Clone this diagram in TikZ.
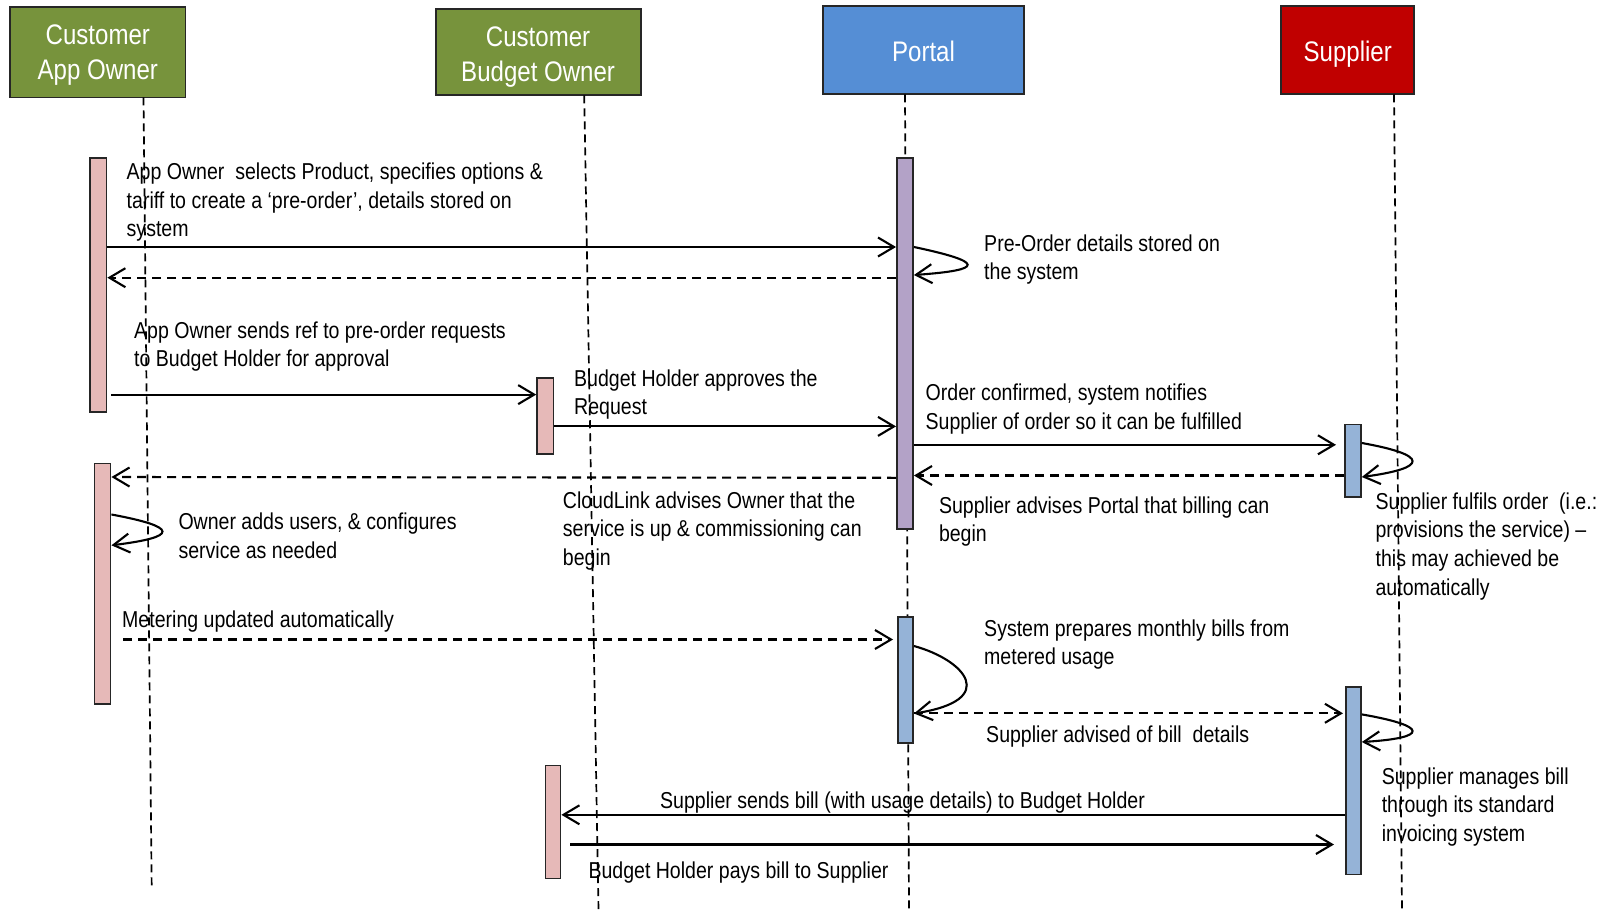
\documentclass[tikz,border=0pt]{standalone}
\usepackage{fontspec}
\setmainfont{Liberation Sans}[FakeStretch=0.85]
\usetikzlibrary{arrows.meta}
\definecolor{hgreen}{HTML}{77933C}
\definecolor{hblue}{HTML}{558ED5}
\definecolor{hred}{HTML}{C00000}
\definecolor{bpink}{HTML}{E6B9B8}
\definecolor{bpurple}{HTML}{B3A2C7}
\definecolor{bblue}{HTML}{95B3D7}
\begin{document}
\begin{tikzpicture}[x=1pt,y=-1pt,
  hdr/.style={draw=black!85, line width=1.8pt, text=white, align=center, inner sep=0pt, font=\fontsize{28.3}{35}\selectfont},
  hdrone/.style={hdr, text height=24pt, text depth=1.8pt},
  actbar/.style={draw=black!85, line width=1.5pt, inner sep=0pt},
  life/.style={line width=1.7pt, dash pattern=on 8pt off 5pt},
  msg/.style={line width=2.1pt, -{Straight Barb[length=16pt,width=19pt]}},
  ret/.style={msg, dash pattern=on 9pt off 6pt},
  lbl/.style={anchor=base west, align=left, inner sep=0pt, font=\fontsize{23}{28.7}\selectfont}
]
\useasboundingbox[fill=white] (0,0) rectangle (1607,910);

% headers
\node[hdr, fill=hgreen, minimum width=175.3pt, minimum height=90.2pt] (h1) at (97.85,52.3) {\rule{0pt}{26pt}Customer\\App Owner};
\node[hdr, fill=hgreen, minimum width=205pt, minimum height=86.1pt] (h2) at (538.1,52.25) {\rule{0pt}{29pt}Customer\\Budget Owner};
\node[hdrone, fill=hblue, minimum width=201pt, minimum height=88.1pt] (h3) at (923.5,50.25) {Portal};
\node[hdrone, fill=hred, minimum width=133.3pt, minimum height=88.1pt] (h4) at (1347.7,50.25) {Supplier};

% lifelines
\coordinate (l1a) at (143.5,97.4);  \coordinate (l1b) at (151.7,887.6);
\coordinate (l2a) at (584.2,95.3);  \coordinate (l2b) at (598.5,910);
\coordinate (l3a) at (905,94.3);    \coordinate (l3b) at (909,910);
\coordinate (l4a) at (1394,94.3);   \coordinate (l4b) at (1402,910);
\draw[life] (l1a) -- (l1b);
\draw[life] (l2a) -- (l2b);
\draw[life] (l3a) -- (l3b);
\draw[life] (l4a) -- (l4b);

% activation bars
\node[actbar, fill=bpink, minimum width=16.4pt, minimum height=254.2pt] (a1) at (98.4,284.9) {};
\node[actbar, fill=bpink, minimum width=16.4pt, minimum height=75.8pt] (a2) at (545.2,416.1) {};
\node[actbar, fill=bpurple, minimum width=16.4pt, minimum height=371pt] (a3) at (905,343.3) {};
\node[actbar, fill=bblue, minimum width=16.3pt, minimum height=72.7pt] (a4) at (1352.9,460.7) {};
\node[actbar, fill=bpink, minimum width=16.4pt, minimum height=240.7pt] (a5) at (102.5,583.7) {};
\node[actbar, fill=bblue, minimum width=15.4pt, minimum height=126pt] (a6) at (905.5,680) {};
\node[actbar, fill=bblue, minimum width=15.3pt, minimum height=187.5pt] (a7) at (1353.4,780.5) {};
\node[actbar, fill=bpink, minimum width=15.3pt, minimum height=112.7pt] (a8) at (553,822) {};

% messages
\draw[msg] (a1.east |- 0,247) -- (a3.west |- 0,247);
\draw[ret] (a3.west |- 0,277.7) -- (a1.east |- 0,277.7);
\draw[msg] (a3.east |- 0,247) .. controls (985,262) and (985,270) .. (a3.east |- 0,275);
\draw[msg, shorten <=4pt] (a1.east |- 0,394.6) -- (a2.west |- 0,394.6);
\draw[msg] (a2.east |- 0,426.4) -- (a3.west |- 0,426.4);
\draw[msg, shorten >=8pt] (a3.east |- 0,444.8) -- (a4.west |- 0,444.8);
\draw[msg] (a4.east |- 0,443) .. controls (1429,455) and (1429,468) .. (a4.east |- 0,477);
\draw[ret] (a4.west |- 0,475.5) -- (a3.east |- 0,475.5);
\draw[ret] (a3.west |- 0,477.8) -- (a5.east |- 0,477);
\draw[msg] (a5.east |- 0,514.5) .. controls (179,527) and (179,537) .. (a5.east |- 0,545.3);
\draw[ret, shorten <=12pt, shorten >=4pt] (a5.east |- 0,639.5) -- (a6.west |- 0,639.5);
\draw[msg] (a6.east |- 0,646) .. controls (965,660) and (1000,700) .. (a6.east |- 0,713.5);
\draw[ret, shorten >=2pt] (a6.east |- 0,713.3) -- (a7.west |- 0,713.3);
\draw[msg] (a7.east |- 0,714.4) .. controls (1429,726) and (1429,738) .. (a7.east |- 0,742);
\draw[msg] (a7.west |- 0,814.8) -- (a8.east |- 0,814.8);
\draw[msg, shorten <=9pt, shorten >=11pt] (a8.east |- 0,844.5) -- (a7.west |- 0,844.5);

% labels (anchor = baseline of the last line)
\node[lbl] (t1) at (126.5,236.9) {App Owner\ \ selects Product, specifies options \&\\tariff to create a ‘pre-order’, details stored on\\system};
\node[lbl] (t2) at (984,279.7) {Pre-Order details stored on\\the system};
\node[lbl] (t3) at (134,366.7) {App Owner sends ref to pre-order requests\\to Budget Holder for approval};
\node[lbl] (t4) at (574,414.7) {Budget Holder approves the\\Request};
\node[lbl] (t5) at (925.5,429.2) {Order confirmed, system notifies\\Supplier of order so it can be fulfilled};
\node[lbl] (t6) at (938.8,541.7) {Supplier advises Portal that billing can\\begin};
\node[lbl] (t7) at (1375.4,595.1) {Supplier fulfils order\ \ (i.e.:\\provisions the service) –\\this may achieved be\\automatically};
\node[lbl] (t8) at (562.7,565.4) {CloudLink advises Owner that the\\service is up \& commissioning can\\begin};
\node[lbl] (t9) at (178.3,558.2) {Owner adds users, \& configures\\service as needed};
\node[lbl] (t10) at (122,627) {Metering updated automatically};
\node[lbl] (t11) at (984,664.7) {System prepares monthly bills from\\metered usage};
\node[lbl] (t12) at (986,742) {Supplier advised of bill\ \ details};
\node[lbl] (t13) at (1381.6,841.4) {Supplier manages bill\\through its standard\\invoicing system};
\node[lbl] (t14) at (660,808.5) {Supplier sends bill (with usage details) to Budget Holder};
\node[lbl] (t15) at (588.3,878) {Budget Holder pays bill to Supplier};
\end{tikzpicture}
\end{document}
